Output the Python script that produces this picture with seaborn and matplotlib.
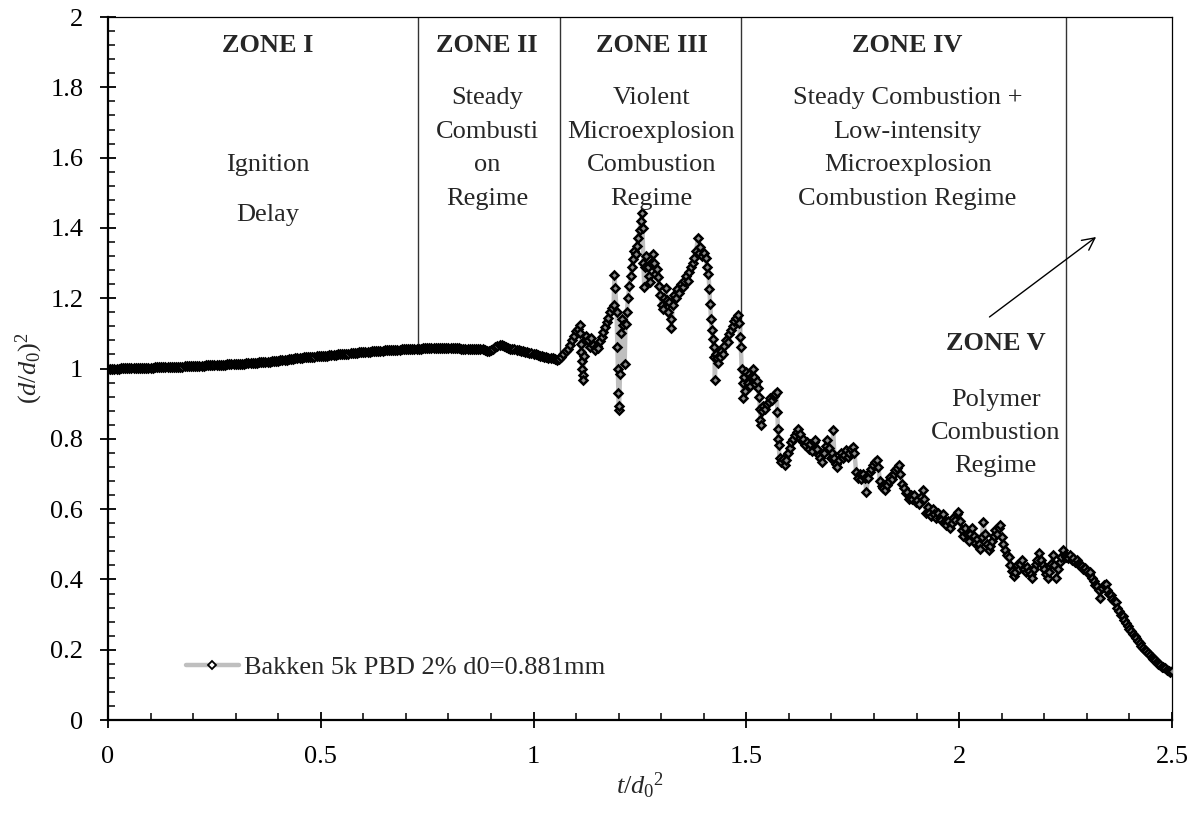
import matplotlib
matplotlib.use("Agg")
import matplotlib.pyplot as plt
import numpy as np
import pandas as pd
import seaborn as sns

# ---------------- data ----------------
# ignition-delay / steady part, sampled every 0.005 in t/d0^2 (0 .. 1.04)
d_delay = [1.000, 1.000, 1.000, 1.000, 1.000, 1.000, 1.001, 1.001, 1.001, 1.001,
           1.001, 1.001, 1.001, 1.002, 1.002, 1.002, 1.002, 1.002, 1.002, 1.002,
           1.002, 1.002, 1.003, 1.003, 1.003, 1.003, 1.003, 1.003, 1.004, 1.004,
           1.004, 1.004, 1.004, 1.005, 1.005, 1.005, 1.006, 1.006, 1.007, 1.007,
           1.007, 1.007, 1.008, 1.008, 1.008, 1.008, 1.009, 1.009, 1.009, 1.009,
           1.010, 1.010, 1.010, 1.011, 1.011, 1.011, 1.012, 1.012, 1.012, 1.013,
           1.013, 1.013, 1.013, 1.014, 1.014, 1.015, 1.015, 1.016, 1.016, 1.017,
           1.017, 1.018, 1.018, 1.019, 1.019, 1.020, 1.020, 1.021, 1.021, 1.022,
           1.022, 1.023, 1.024, 1.024, 1.025, 1.026, 1.027, 1.028, 1.029, 1.029,
           1.030, 1.031, 1.032, 1.032, 1.033, 1.033, 1.034, 1.034, 1.035, 1.035,
           1.036, 1.036, 1.037, 1.037, 1.038, 1.038, 1.039, 1.039, 1.040, 1.040,
           1.041, 1.041, 1.042, 1.042, 1.043, 1.043, 1.044, 1.045, 1.046, 1.046,
           1.047, 1.047, 1.048, 1.048, 1.049, 1.049, 1.050, 1.050, 1.051, 1.051,
           1.052, 1.052, 1.053, 1.053, 1.054, 1.054, 1.054, 1.054, 1.055, 1.055,
           1.056, 1.056, 1.056, 1.056, 1.057, 1.057, 1.057, 1.057, 1.058, 1.058,
           1.058, 1.058, 1.058, 1.058, 1.058, 1.058, 1.058, 1.058, 1.058, 1.058,
           1.058, 1.058, 1.058, 1.058, 1.058, 1.058, 1.057, 1.057, 1.057, 1.057,
           1.057, 1.057, 1.056, 1.056, 1.056, 1.056, 1.055, 1.053, 1.051, 1.050,
           1.053, 1.057, 1.060, 1.063, 1.066, 1.066, 1.064, 1.061, 1.059, 1.057,
           1.056, 1.055, 1.054, 1.053, 1.051, 1.050, 1.048, 1.047, 1.045, 1.043,
           1.041, 1.040, 1.038, 1.037, 1.035, 1.034, 1.032, 1.031, 1.029]
t_delay = list(np.linspace(0.0, 1.04, len(d_delay)))

t_violent = [1.045, 1.050, 1.055, 1.060, 1.065, 1.070, 1.075, 1.080, 1.085, 1.090,
             1.095, 1.100, 1.104, 1.108, 1.110, 1.111, 1.112, 1.113, 1.114, 1.115,
             1.116, 1.118, 1.120, 1.124, 1.128, 1.132, 1.136, 1.140, 1.144, 1.148,
             1.152, 1.156, 1.160, 1.164, 1.168, 1.172, 1.176, 1.180, 1.184, 1.188,
             1.190, 1.192, 1.195, 1.197, 1.198, 1.199, 1.200, 1.201, 1.203, 1.205,
             1.208, 1.211, 1.214, 1.216, 1.219, 1.222, 1.225, 1.228, 1.231, 1.234,
             1.237, 1.240, 1.243, 1.246, 1.249, 1.252, 1.254, 1.256, 1.258, 1.260,
             1.262, 1.265, 1.268, 1.271, 1.274, 1.277, 1.280, 1.283, 1.286, 1.289,
             1.292, 1.295, 1.298, 1.301, 1.304, 1.307, 1.310, 1.313, 1.316, 1.319,
             1.322, 1.324, 1.327, 1.330, 1.334, 1.338, 1.342, 1.346, 1.350, 1.354,
             1.358, 1.362, 1.366, 1.370, 1.374, 1.378, 1.382, 1.386, 1.389, 1.392,
             1.396, 1.400, 1.404, 1.408, 1.411, 1.413, 1.415, 1.417, 1.419, 1.421,
             1.423, 1.425, 1.426, 1.428, 1.431, 1.434, 1.437, 1.440, 1.444, 1.448,
             1.452, 1.456, 1.460, 1.464, 1.468, 1.472, 1.476, 1.480, 1.483, 1.485,
             1.487]
d_violent = [1.031, 1.027, 1.025, 1.027, 1.032, 1.040, 1.049, 1.057, 1.066, 1.080,
             1.094, 1.106, 1.112, 1.124, 1.100, 1.070, 1.046, 1.022, 0.998, 0.982,
             0.968, 1.035, 1.080, 1.094, 1.082, 1.060, 1.086, 1.068, 1.052, 1.064,
             1.058, 1.078, 1.090, 1.104, 1.118, 1.132, 1.145, 1.160, 1.172, 1.180,
             1.266, 1.229, 1.160, 1.062, 0.998, 0.930, 0.882, 0.893, 0.985, 1.100,
             1.140, 1.125, 1.012, 1.128, 1.160, 1.200, 1.235, 1.262, 1.290, 1.312,
             1.335, 1.325, 1.350, 1.372, 1.395, 1.420, 1.442, 1.400, 1.300, 1.233,
             1.290, 1.320, 1.290, 1.262, 1.245, 1.300, 1.327, 1.300, 1.270, 1.282,
             1.260, 1.235, 1.208, 1.180, 1.170, 1.200, 1.230, 1.195, 1.160, 1.190,
             1.140, 1.114, 1.180, 1.210, 1.200, 1.225, 1.215, 1.240, 1.232, 1.250,
             1.262, 1.250, 1.275, 1.290, 1.300, 1.315, 1.335, 1.370, 1.330, 1.345,
             1.320, 1.330, 1.315, 1.290, 1.270, 1.225, 1.185, 1.140, 1.110, 1.085,
             1.060, 1.034, 0.967, 1.040, 1.030, 1.015, 1.032, 1.050, 1.042, 1.065,
             1.080, 1.075, 1.098, 1.110, 1.122, 1.135, 1.145, 1.152, 1.130, 1.090,
             1.062]

t_steady = [1.489, 1.491, 1.493, 1.495, 1.497, 1.500, 1.503, 1.506, 1.509, 1.512,
            1.515, 1.518, 1.521, 1.524, 1.527, 1.530, 1.532, 1.533, 1.534, 1.536,
            1.540, 1.544, 1.548, 1.552, 1.556, 1.560, 1.564, 1.568, 1.571, 1.573,
            1.574, 1.575, 1.576, 1.578, 1.582, 1.586, 1.590, 1.594, 1.598, 1.602,
            1.606, 1.610, 1.614, 1.618, 1.622, 1.626, 1.630, 1.634, 1.638, 1.642,
            1.646, 1.650, 1.654, 1.658, 1.662, 1.666, 1.670, 1.674, 1.678, 1.682,
            1.686, 1.690, 1.694, 1.698, 1.701, 1.704, 1.707, 1.710, 1.714, 1.718,
            1.722, 1.726, 1.730, 1.734, 1.738, 1.742, 1.746, 1.750, 1.754, 1.758,
            1.762, 1.766, 1.770, 1.774, 1.778, 1.782, 1.786, 1.790, 1.794, 1.798,
            1.802, 1.806, 1.810, 1.814, 1.818, 1.822, 1.826, 1.830, 1.834, 1.838,
            1.842, 1.846, 1.850, 1.854, 1.858, 1.862, 1.866, 1.870, 1.874, 1.878,
            1.882, 1.886, 1.890, 1.894, 1.898, 1.902, 1.906, 1.910, 1.914, 1.918,
            1.922, 1.926, 1.930, 1.934, 1.938, 1.942, 1.946, 1.950, 1.954, 1.958,
            1.962, 1.966, 1.970, 1.974, 1.978, 1.982, 1.986, 1.990, 1.994, 1.998,
            2.002, 2.006, 2.010, 2.014, 2.018, 2.022, 2.026, 2.030, 2.034, 2.038,
            2.042, 2.046, 2.049, 2.053, 2.057, 2.061, 2.065, 2.069, 2.073, 2.077,
            2.081, 2.085, 2.089, 2.093, 2.096, 2.100, 2.104, 2.108, 2.112, 2.116,
            2.120, 2.124, 2.128, 2.132, 2.136, 2.140, 2.144, 2.148, 2.152, 2.156,
            2.160, 2.164, 2.168, 2.172, 2.176, 2.180, 2.184, 2.188, 2.192, 2.196,
            2.200, 2.204, 2.208, 2.212, 2.216, 2.220, 2.224, 2.228, 2.232, 2.236,
            2.240, 2.244, 2.248, 2.252]
d_steady = [1.000, 0.960, 0.915, 0.975, 0.935, 0.990, 0.960, 0.985, 0.950, 0.975,
            0.999, 0.975, 0.955, 0.965, 0.945, 0.920, 0.885, 0.853, 0.839, 0.880,
            0.893, 0.885, 0.900, 0.905, 0.915, 0.910, 0.922, 0.928, 0.932, 0.877,
            0.829, 0.800, 0.782, 0.745, 0.735, 0.742, 0.727, 0.740, 0.760, 0.775,
            0.790, 0.800, 0.810, 0.820, 0.828, 0.815, 0.795, 0.800, 0.782, 0.790,
            0.772, 0.785, 0.765, 0.790, 0.797, 0.770, 0.755, 0.745, 0.735, 0.760,
            0.780, 0.797, 0.775, 0.745, 0.760, 0.825, 0.745, 0.728, 0.720, 0.740,
            0.760, 0.745, 0.755, 0.768, 0.748, 0.760, 0.772, 0.777, 0.760, 0.705,
            0.690, 0.700, 0.685, 0.700, 0.690, 0.650, 0.690, 0.705, 0.715, 0.725,
            0.735, 0.740, 0.720, 0.680, 0.665, 0.660, 0.655, 0.668, 0.680, 0.692,
            0.685, 0.700, 0.712, 0.718, 0.725, 0.700, 0.672, 0.660, 0.645, 0.650,
            0.630, 0.640, 0.628, 0.640, 0.620, 0.625, 0.615, 0.635, 0.654, 0.630,
            0.590, 0.605, 0.590, 0.580, 0.600, 0.585, 0.575, 0.590, 0.575, 0.570,
            0.585, 0.565, 0.555, 0.565, 0.545, 0.560, 0.575, 0.570, 0.585, 0.593,
            0.565, 0.540, 0.525, 0.545, 0.530, 0.510, 0.530, 0.545, 0.525, 0.505,
            0.515, 0.500, 0.488, 0.520, 0.564, 0.530, 0.500, 0.484, 0.495, 0.510,
            0.525, 0.540, 0.530, 0.545, 0.555, 0.520, 0.500, 0.485, 0.470, 0.465,
            0.440, 0.425, 0.410, 0.420, 0.440, 0.430, 0.445, 0.455, 0.430, 0.420,
            0.435, 0.425, 0.415, 0.404, 0.430, 0.445, 0.455, 0.474, 0.455, 0.440,
            0.430, 0.415, 0.404, 0.420, 0.445, 0.469, 0.440, 0.404, 0.430, 0.450,
            0.465, 0.483, 0.470, 0.465]

t_polymer = [2.256, 2.260, 2.264, 2.268, 2.272, 2.276, 2.280, 2.284, 2.288, 2.292,
             2.296, 2.300, 2.304, 2.308, 2.312, 2.316, 2.320, 2.324, 2.328, 2.332,
             2.336, 2.340, 2.344, 2.348, 2.352, 2.356, 2.360, 2.364, 2.368, 2.372,
             2.376, 2.380, 2.384, 2.388, 2.392, 2.396, 2.400, 2.404, 2.408, 2.412,
             2.416, 2.420, 2.424, 2.428, 2.432, 2.436, 2.440, 2.444, 2.448, 2.452,
             2.456, 2.460, 2.464, 2.468, 2.472, 2.476, 2.480, 2.484, 2.488, 2.492,
             2.496, 2.500]
d_polymer = [0.460, 0.470, 0.455, 0.460, 0.450, 0.455, 0.445, 0.440, 0.438, 0.430,
             0.432, 0.425, 0.415, 0.420, 0.405, 0.395, 0.385, 0.380, 0.370, 0.346,
             0.375, 0.385, 0.388, 0.370, 0.360, 0.355, 0.345, 0.340, 0.335, 0.320,
             0.310, 0.300, 0.295, 0.285, 0.275, 0.268, 0.258, 0.252, 0.245, 0.238,
             0.232, 0.225, 0.218, 0.212, 0.206, 0.200, 0.195, 0.190, 0.184, 0.180,
             0.175, 0.170, 0.165, 0.160, 0.156, 0.152, 0.150, 0.147, 0.143, 0.140,
             0.138, 0.140]

series_label = "Bakken 5k PBD 2% d0=0.881mm"

# zone separators: x position and lower end of the vertical line
zone_x = [0.729, 1.062, 1.487, 2.252]
zone_floor = [1.06, 1.04, 0.996, 0.478]

x_ticks = [0, 0.5, 1, 1.5, 2, 2.5]
y_ticks = [0, 0.2, 0.4, 0.6, 0.8, 1.0, 1.2, 1.4, 1.6, 1.8, 2.0]

# ---------------- style ----------------
sns.set_style("ticks")
plt.rcParams["font.family"] = ["Liberation Serif", "DejaVu Serif"]
plt.rcParams["mathtext.fontset"] = "custom"
plt.rcParams["mathtext.rm"] = "Liberation Serif"
plt.rcParams["mathtext.it"] = "Liberation Serif:italic"

FS = 19

df = pd.DataFrame({
    "t": t_delay + t_violent + t_steady + t_polymer,
    "d": d_delay + d_violent + d_steady + d_polymer,
})

fig = plt.figure(figsize=(11.96, 8.16), dpi=100)
ax = fig.add_axes([0.0903, 0.1176, 0.8896, 0.8615])

sns.lineplot(data=df, x="t", y="d", ax=ax, estimator=None, sort=False,
             color="#bfbfbf", linewidth=3.2, marker="D", markersize=4.5,
             markerfacecolor="#8c8c8c", markeredgecolor="black",
             markeredgewidth=1.8, label=series_label, zorder=3)

# zone separator lines
for zx, zf in zip(zone_x, zone_floor):
    ax.plot([zx, zx], [2.0, zf], color="#333333", lw=1.0, zorder=2)

ax.set_xlim(0, 2.5)
ax.set_ylim(0, 2)
ax.set_xticks(x_ticks)
ax.set_xticklabels([f"{v:g}" for v in x_ticks])
ax.set_yticks(y_ticks)
ax.set_yticklabels([f"{v:g}" for v in y_ticks])
ax.set_xticks(np.arange(0, 2.5001, 0.1), minor=True)
ax.set_yticks(np.arange(0, 2.0001, 0.04), minor=True)
ax.tick_params(which="major", direction="inout", length=11.5, width=1.3,
               labelsize=FS, pad=12, colors="black")
ax.tick_params(which="minor", direction="in", length=5, width=1.1, colors="black")
ax.tick_params(axis="x", which="major", pad=13)

for side in ["left", "bottom"]:
    ax.spines[side].set_linewidth(1.6)
    ax.spines[side].set_color("black")
for side in ["top", "right"]:
    ax.spines[side].set_linewidth(0.9)
    ax.spines[side].set_color("black")

ax.set_xlabel(r"$t/d_0{}^2$", fontsize=FS, labelpad=2)
ax.set_ylabel(r"$(d/d_0)^2$", fontsize=FS, labelpad=4)

# zone annotations
row = [1.769, 1.673, 1.578, 1.483]
title_y = 1.919
ax.text(0.376, title_y, "ZONE I", ha="center", va="center", fontsize=FS, fontweight="bold")
ax.text(0.376, 1.578, "Ignition", ha="center", va="center", fontsize=FS)
ax.text(0.376, 1.436, "Delay", ha="center", va="center", fontsize=FS)

zone_texts = [
    (0.891, "ZONE II", ["Steady", "Combusti", "on", "Regime"]),
    (1.277, "ZONE III", ["Violent", "Microexplosion", "Combustion", "Regime"]),
    (1.879, "ZONE IV", ["Steady Combustion +", "Low-intensity", "Microexplosion",
                        "Combustion Regime"]),
]
for xc, title, lines in zone_texts:
    ax.text(xc, title_y, title, ha="center", va="center", fontsize=FS, fontweight="bold")
    for yy, s in zip(row, lines):
        ax.text(xc, yy, s, ha="center", va="center", fontsize=FS)

ax.text(2.086, 1.071, "ZONE V", ha="center", va="center", fontsize=FS, fontweight="bold")
for yy, s in zip([0.910, 0.816, 0.722], ["Polymer", "Combustion", "Regime"]):
    ax.text(2.086, yy, s, ha="center", va="center", fontsize=FS)

ax.annotate("", xy=(2.327, 1.379), xytext=(2.066, 1.142),
            arrowprops=dict(arrowstyle="->", color="black", lw=1.0,
                            mutation_scale=22))

leg = ax.legend(loc="center left", bbox_to_anchor=(0.0733, 0.0754),
                frameon=False, fontsize=FS, handlelength=2.0,
                handletextpad=0.2, borderpad=0, borderaxespad=0)
for h in leg.legend_handles:
    h.set_markerfacecolor("white")
    h.set_markeredgewidth(1.3)
    h.set_markersize(3.9)

fig.savefig("out.png", dpi=100)
